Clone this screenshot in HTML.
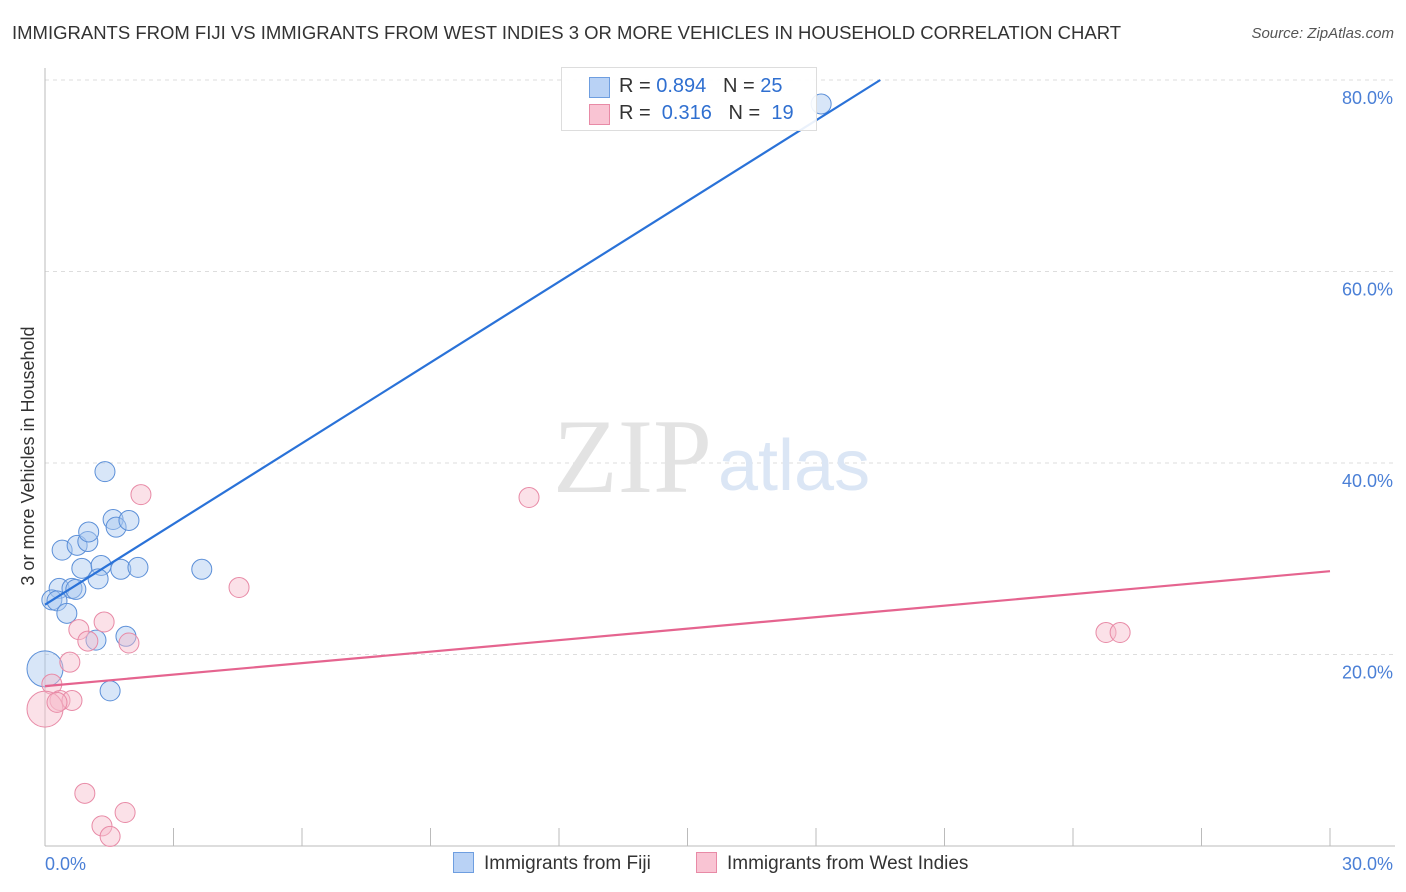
<!DOCTYPE html>
<html><head><meta charset="utf-8"><style>
body{margin:0;background:#fff;font-family:"Liberation Sans",sans-serif;}
#wrap{position:relative;width:1406px;height:892px;overflow:hidden;}
.t{position:absolute;white-space:nowrap;}
</style></head><body>
<div id="wrap">
<div class="t" style="left:12px;top:22px;font-size:18.5px;color:#333;">IMMIGRANTS FROM FIJI VS IMMIGRANTS FROM WEST INDIES 3 OR MORE VEHICLES IN HOUSEHOLD CORRELATION CHART</div>
<div class="t" style="right:12px;top:25px;font-size:15px;color:#555;font-style:italic;">Source: ZipAtlas.com</div>
<svg id="svg" width="1406" height="892" style="position:absolute;left:0;top:0"></svg>
</div>
<script>
const yTicks=[20,40,60,80];
const yTickLabels=["20.0%","40.0%","60.0%","80.0%"];
const xTickLabels=["0.0%","30.0%"];
const fijiX=[1.4,0.4,0.75,1.0,1.02,1.59,1.66,1.96,0.86,1.31,1.24,1.77,2.17,3.66,0.33,0.63,0.72,0.16,0.28,0.51,1.19,1.89,1.52,0.0,18.12];
const fijiY=[39.1,30.9,31.4,31.8,32.8,34.1,33.3,34.0,29.0,29.3,27.9,28.9,29.1,28.9,26.9,26.9,26.8,25.7,25.6,24.3,21.5,21.9,16.2,18.5,77.5];
const fijiR=[10,10,10,10,10,10,10,10,10,10,10,10,10,10,10,10,10,10,10,10,10,10,10,18,10];
const wiX=[2.24,11.3,4.53,1.38,0.79,1.0,1.96,0.58,0.16,0.35,0.63,0.0,24.77,25.1,0.93,1.87,1.33,1.52,0.28];
const wiY=[36.7,36.4,27.0,23.4,22.6,21.4,21.2,19.2,16.9,15.2,15.2,14.3,22.3,22.3,5.5,3.5,2.1,1.0,15.0];
const wiR=[10,10,10,10,10,10,10,10,10,10,10,18,10,10,10,10,10,10,10];
const fijiLine=[0,25.2,19.5,80.0];
const wiLine=[0,16.7,30,28.7];
const X0=45,X1=1330,Y0=846;
const sx=v=>X0+(X1-X0)*v/30, sy=v=>Y0-v*9.575;
const svg=document.getElementById('svg');
const NS='http://www.w3.org/2000/svg';
function mk(tag,attrs,parent){const e=document.createElementNS(NS,tag);for(const k in attrs)e.setAttribute(k,attrs[k]);(parent||svg).appendChild(e);return e;}
yTicks.forEach((v,i)=>{
 const g=mk('line',{x1:X0,x2:1395,y1:sy(v),y2:sy(v),stroke:'#ddd','stroke-dasharray':'4,4'});
 
 
 const t=mk('text',{x:1393,y:sy(v)+24,'text-anchor':'end','font-size':18,fill:'#4a7fd6'});
 t.textContent=yTickLabels[i];
 
 
});
const ax=mk('line',{x1:X0,x2:1395,y1:Y0,y2:Y0,stroke:'#bbb'});


const ay=mk('line',{x1:X0,x2:X0,y1:68,y2:Y0,stroke:'#bbb'});


for(let i=0;i<=10;i++){const x=X0+(X1-X0)*i/10;const tk=mk('line',{x1:x,x2:x,y1:828,y2:Y0,stroke:'#bbb'});
 
 }
const xl0=mk('text',{x:45,y:870,'font-size':18,fill:'#4a7fd6'});xl0.textContent=xTickLabels[0];


const xl1=mk('text',{x:1393,y:870,'text-anchor':'end','font-size':18,fill:'#4a7fd6'});xl1.textContent=xTickLabels[1];


const yt=mk('text',{x:0,y:0,'font-size':18,fill:'#333','text-anchor':'middle',transform:'translate(34,456) rotate(-90)'});yt.textContent='3 or more Vehicles in Household';


const w1=mk('text',{x:553,y:492,'font-size':106,fill:'#e3e3e3','font-family':'Liberation Serif'});w1.textContent='ZIP';


const w2=mk('text',{x:718,y:490,'font-size':72,fill:'#dbe6f5'});w2.textContent='atlas';


function pts(xs,ys,rs,fill,stroke,name){xs.forEach((v,i)=>{const c=mk('circle',{cx:sx(v),cy:sy(ys[i]),r:rs[i],fill:fill,stroke:stroke,'stroke-width':1,'fill-opacity':0.45});
 
 });}
pts(fijiX,fijiY,fijiR,'#a9c7f0','#5b8fd8','fiji-point');
pts(wiX,wiY,wiR,'#f7bccd','#e88aa6','west-indies-point');
const l1=mk('line',{x1:sx(fijiLine[0]),y1:sy(fijiLine[1]),x2:sx(fijiLine[2]),y2:sy(fijiLine[3]),stroke:'#2a72d8','stroke-width':2.2});


const l2=mk('line',{x1:sx(wiLine[0]),y1:sy(wiLine[1]),x2:sx(wiLine[2]),y2:sy(wiLine[3]),stroke:'#e5648f','stroke-width':2.2});


</script>
<div class="t" style="left:561px;top:67px;width:254px;height:62px;border:1px solid #ddd;background:rgba(255,255,255,0.9);font-size:20px;">
 <div style="position:absolute;left:27px;top:9px;width:19px;height:19px;background:#b9d2f5;border:1px solid #6e9ee0"></div>
 <div style="position:absolute;left:57px;top:7px;color:#333">R = <span style="color:#2f6fd0">0.894</span>&nbsp;&nbsp;&nbsp;N = <span style="color:#2f6fd0">25</span></div>
 <div style="position:absolute;left:27px;top:36px;width:19px;height:19px;background:#f9c4d3;border:1px solid #e88aa6"></div>
 <div style="position:absolute;left:57px;top:34px;color:#333">R = &nbsp;<span style="color:#2f6fd0">0.316</span>&nbsp;&nbsp;&nbsp;N = &nbsp;<span style="color:#2f6fd0">19</span></div>
</div>
<div class="t" style="left:453px;top:852px;font-size:19px;color:#333;">
 <span style="display:inline-block;width:19px;height:19px;background:#b9d2f5;border:1px solid #6e9ee0;vertical-align:-4px;margin-right:10px"></span>Immigrants from Fiji</div>
<div class="t" style="left:696px;top:852px;font-size:19px;color:#333;">
 <span style="display:inline-block;width:19px;height:19px;background:#f9c4d3;border:1px solid #e88aa6;vertical-align:-4px;margin-right:10px"></span>Immigrants from West Indies</div>
</body></html>
